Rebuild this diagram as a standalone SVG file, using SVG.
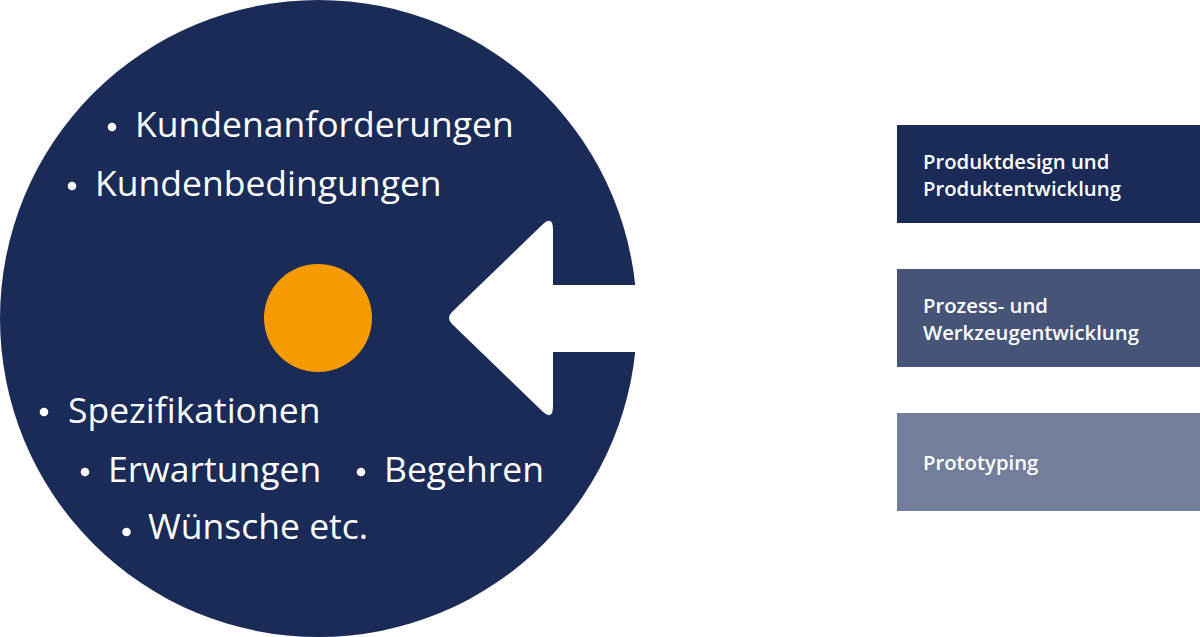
<svg xmlns="http://www.w3.org/2000/svg" width="1200" height="637" viewBox="0 0 1200 637">
<style>
.big{font-family:"Open Sans","Noto Sans",sans-serif;font-size:35.5px;fill:#ffffff;}
.lbl{font-family:"Open Sans","Noto Sans",sans-serif;font-size:20.3px;font-weight:600;fill:#ffffff;}
.dot{fill:#ffffff;}
</style>
<rect width="1200" height="637" fill="#ffffff"/>
<g id="main-circle">
<circle cx="318.5" cy="318.5" r="318.5" fill="#1a2b57"/>
<circle class="dot" cx="112" cy="127" r="4.3"/><text class="big" x="135" y="137">Kundenanforderungen</text>
<circle class="dot" cx="72" cy="186" r="4.3"/><text class="big" x="95" y="196">Kundenbedingungen</text>
<circle class="dot" cx="44" cy="412" r="4.3"/><text class="big" x="68" y="423">Spezifikationen</text>
<circle class="dot" cx="85" cy="472" r="4.3"/><text class="big" x="108" y="482">Erwartungen</text>
<circle class="dot" cx="361" cy="472" r="4.3"/><text class="big" x="384" y="482">Begehren</text>
<circle class="dot" cx="126.5" cy="532" r="4.3"/><text class="big" x="148" y="539">Wünsche etc.</text>
</g>
<g id="connectors">
<path d="M637 285 L553 285 L553 230 Q553 214 541 226 L452 312 Q446 318 452 324 L541 410 Q553 422 553 406 L553 352 L637 352 Z" fill="#ffffff"/>
</g>
<g id="center-dot">
<circle cx="318" cy="318" r="54" fill="#f59a00"/>
</g>
<g id="box1">
<rect x="897" y="125" width="303" height="98" fill="#1a2b57"/>
<text class="lbl" x="923" y="169">Produktdesign und</text>
<text class="lbl" x="923" y="196">Produktentwicklung</text>
</g>
<g id="box2">
<rect x="897" y="269" width="303" height="98" fill="#465478"/>
<text class="lbl" x="923" y="313">Prozess- und</text>
<text class="lbl" x="923" y="340">Werkzeugentwicklung</text>
</g>
<g id="box3">
<rect x="897" y="413" width="303" height="98" fill="#737f9a"/>
<text class="lbl" x="923" y="470">Prototyping</text>
</g>
</svg>
